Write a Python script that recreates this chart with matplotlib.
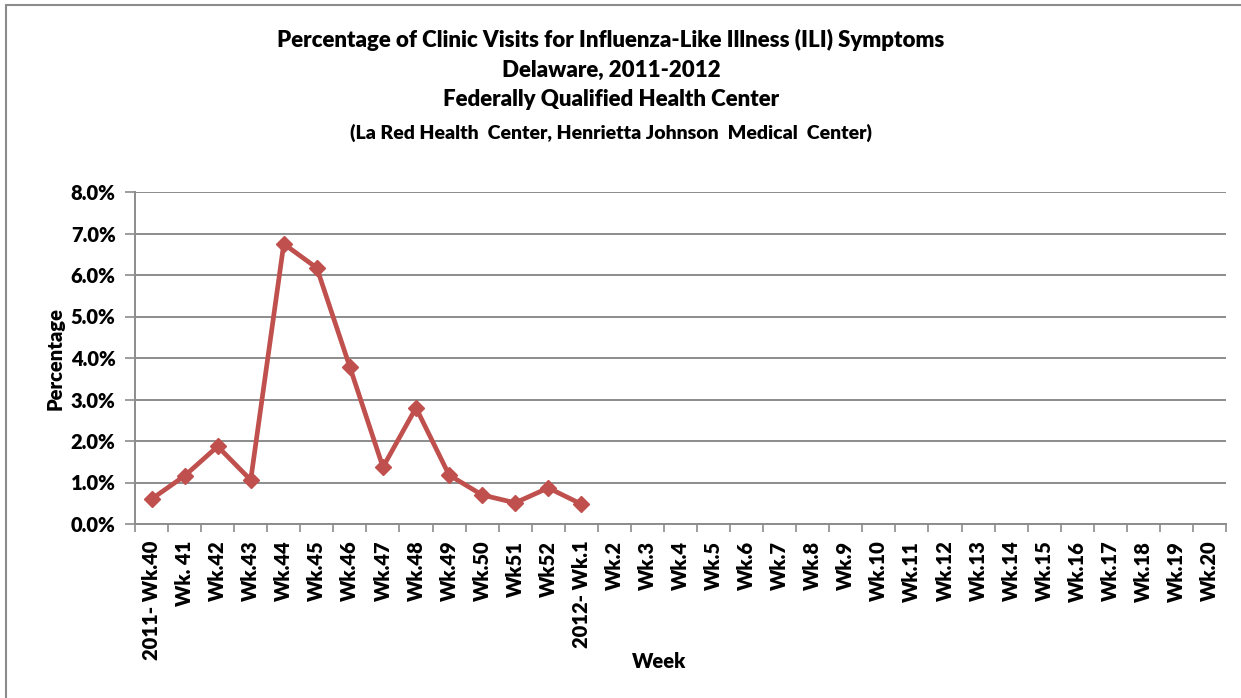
import numpy as np
import matplotlib
matplotlib.use("Agg")
import matplotlib.pyplot as plt
from matplotlib.patches import Rectangle
from matplotlib.ticker import FuncFormatter, FixedLocator

# data
week_labels = ["2011- Wk.40", "Wk. 41", "Wk.42", "Wk.43", "Wk.44", "Wk.45",
               "Wk.46", "Wk.47", "Wk.48", "Wk.49", "Wk.50", "Wk51", "Wk52",
               "2012- Wk.1", "Wk.2", "Wk.3", "Wk.4", "Wk.5", "Wk.6", "Wk.7",
               "Wk.8", "Wk.9", "Wk.10", "Wk.11", "Wk.12", "Wk.13", "Wk.14",
               "Wk.15", "Wk.16", "Wk.17", "Wk.18", "Wk.19", "Wk.20"]
ili_pct = [0.60, 1.16, 1.87, 1.06, 6.75, 6.17, 3.78, 1.37, 2.80, 1.18,
           0.70, 0.51, 0.87, 0.48]
y_ticks = [0, 1, 2, 3, 4, 5, 6, 7, 8]

title_lines = ["Percentage of Clinic Visits for Influenza-Like Illness (ILI) Symptoms",
               "Delaware, 2011-2012",
               "Federally Qualified Health Center"]
subtitle = "(La Red Health  Center, Henrietta Johnson  Medical  Center)"

plt.rcParams['font.family'] = ['Lato', 'DejaVu Sans']
W, H = 1241, 698
fig = plt.figure(figsize=(W / 100, H / 100), dpi=100)

# outer chart frame
fig.patches.append(Rectangle((6 / W, -0.1), 1.2, 1.1 - 5 / H, transform=fig.transFigure,
                             fill=False, edgecolor="#8c8c8c", linewidth=1.5))

ax = fig.add_axes([135 / W, 1 - 524 / H, (1226 - 135) / W, (524 - 192) / H])
n = len(week_labels)
x = np.arange(n)
ax.plot(x[:len(ili_pct)], ili_pct, color="#C0504D", linewidth=3.4,
        marker="D", markersize=8.5, zorder=3)

ax.set_xlim(-0.5, n - 0.5)
ax.set_ylim(0, 8)
ax.set_yticks(y_ticks)
ax.yaxis.set_major_formatter(FuncFormatter(lambda v, p: f"{v:.1f}%"))
ax.grid(axis="y", color="#8c8c8c", linewidth=1.4)
ax.set_axisbelow(True)

ax.set_xticks(x)
ax.set_xticklabels(week_labels, rotation=90, fontsize=14.5, fontweight="heavy")
ax.xaxis.set_minor_locator(FixedLocator(np.arange(n + 1) - 0.5))
ax.tick_params(axis="x", which="major", length=0, pad=12)
ax.tick_params(axis="x", which="minor", length=6, color="#8c8c8c", width=1.2)
ax.tick_params(axis="y", length=7, color="#8c8c8c", width=1.2, labelsize=14.5, pad=7)
for lbl in ax.get_yticklabels():
    lbl.set_fontweight("heavy")

for s in ["top", "right"]:
    ax.spines[s].set_visible(False)
for s in ["left", "bottom"]:
    ax.spines[s].set_color("#8c8c8c")
    ax.spines[s].set_linewidth(1.4)

ax.set_ylabel("Percentage", fontsize=14.5, fontweight="heavy", labelpad=4)
fig.text(659 / W, 1 - 662 / H, "Week", ha="center", va="center",
         fontsize=14.5, fontweight="heavy")

for i, t in enumerate(title_lines):
    fig.text(611 / W, 1 - (40 + 30 * i) / H, t, ha="center", va="center",
             fontsize=16, fontweight="heavy")
fig.text(611 / W, 1 - 133 / H, subtitle, ha="center", va="center",
         fontsize=14, fontweight="heavy")

fig.savefig("out.png", dpi=100, facecolor="white")
